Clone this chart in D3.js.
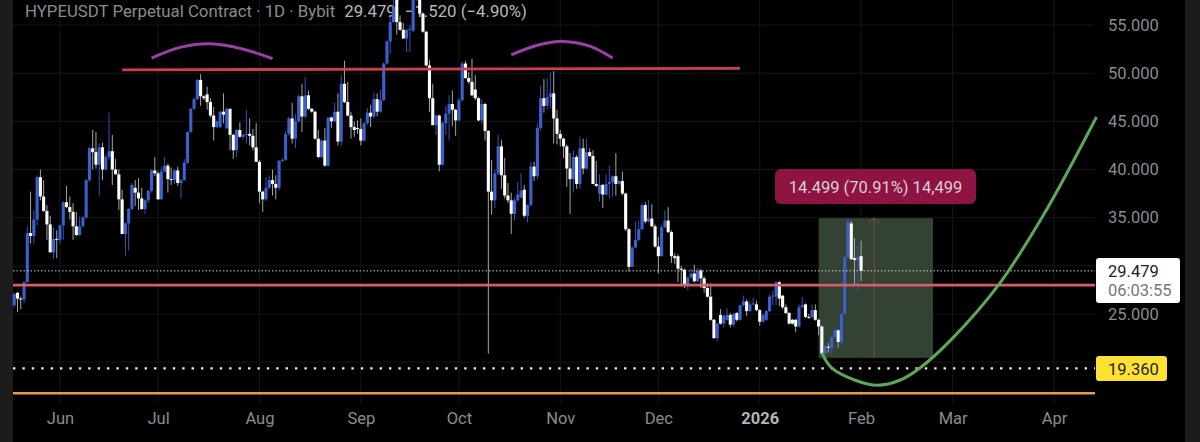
<!DOCTYPE html>
<html lang="en">
<head>
<meta charset="utf-8" />
<title>HYPEUSDT Perpetual Contract</title>
<style>
  html, body { margin: 0; padding: 0; background: #000; }
  svg { display: block; font-family: Roboto, sans-serif; }
  .axis path, .axis line { display: none; }
  .axis text { fill: #8c8c8c; font-family: Roboto, sans-serif; font-size: 16.5px; }
</style>
<script src="https://cdn.jsdelivr.net/npm/d3@7/dist/d3.min.js"></script>
</head>
<body>
<svg id="chart" width="1200" height="442"></svg>
<script>
// daily candles, first one is 18 May 2025, last one 1 Feb 2026
var firstDay = "2025-05-18";

var opens = [
  25.9,27.2,26.6,26.5,28.3,33.4,33.1,34.8,39.2,37.2,
  35.7,34.3,31.4,32.8,32.7,34.2,36.6,36.1,35.6,34.1,
  33.2,34.1,35,38.9,42.2,41.8,40.5,42.3,40,41.3,
  41.9,40,39.5,36.9,33.3,34.4,35.9,38.1,37.6,37,
  35.9,36.8,37.8,39.9,39.6,36.9,39.8,40.4,39,38.9,
  39.9,38.6,38.9,40.7,43.9,46.3,47.3,49.3,47.6,47.8,
  47,45.6,44.4,44.4,46,44.3,46.3,43.6,42,44.1,
  43.4,43.6,43.7,43.5,42.3,40.8,37.7,36.9,38.1,38.9,
  38.5,38.1,40.9,41,43.7,45.3,43.2,45,47.6,45.5,
  47.7,46.3,46,43.2,41.3,43,40.4,45.4,45,46,
  42.9,48.9,47,45.6,44.4,44.3,44.2,43,44.8,45.9,
  45.5,47.3,46,47.2,51,53.3,55.3,57.6,55.3,54.5,
  53.6,54.5,54.4,57.6,58.5,56.2,54.3,50.8,47.4,44.6,
  45.6,40.5,44.8,45.8,46.8,46.2,45.1,47.2,51,49.5,
  49.1,48.3,47.4,45.1,46.8,44,37.7,36.8,39.6,42.4,
  39.4,37.3,36.8,35.4,36.8,37.1,37.9,35.2,36.3,40.3,
  39.3,44.3,47.4,46.6,47.5,47.9,45.3,43.7,43.2,42.4,
  40.1,39,41.3,38.5,42.2,40.1,41.8,41.4,38.5,37.5,
  38.4,37.4,38.5,38.7,39.3,38.5,38.8,37.5,33.8,29.9,
  31.9,32.7,33.8,36.3,34.6,34.9,34.1,32,31,34,
  34.7,33.5,31,31,29.7,29.6,28,28.8,29.2,28.4,
  29.5,28.7,27.7,26.8,24.4,22.5,24.9,24,24.4,24.9,
  23.9,25.1,24.4,25.9,26.3,25.3,26,26,25.4,24.2,
  24.4,25.3,26.8,26.8,28.3,26.9,25.7,25.1,24.4,24.4,
  23.7,25.7,26,24.7,24.7,25.4,24.4,23.7,20.9,21.6,
  21.5,22.6,23.3,22.1,25,30.9,34.4,30.8,30.6,31
];
var closes = [
  27.1,26.6,26.5,28.3,33.4,33.1,34.8,39.2,37.2,35.7,
  34.3,31.4,32.8,32.7,34.2,36.6,36.1,35.6,34.1,33.2,
  34.1,35,38.9,42.2,41.8,40.5,42.3,40,41.3,41.9,
  40,39.5,36.9,33.3,34.4,35.9,38.4,37.6,37,35.9,
  36.8,37.8,39.9,39.6,36.9,39.8,40.4,39,38.9,39.9,
  38.6,38.9,40.7,43.9,46.3,47.3,49.3,47.6,47.4,47,
  45.6,44.4,45,46,45.7,46.3,43.6,42,44.1,43.4,
  43.6,43.7,43.5,42.3,40.8,37.7,36.9,38.1,38.9,38.5,
  38.1,40.9,41,43.7,45.3,43.2,45,47.6,45.5,47.7,
  46.3,46,43.2,41.3,43,40.4,45.4,45,46,42.9,
  48.9,47,45.6,44.4,44.1,44.2,43,44.8,45.9,45.5,
  47.3,46,47.2,51,53.3,55.3,56.9,55.3,54.5,53.6,
  54.5,54.6,57.6,58.5,56.2,54.3,50.8,47.4,44.6,45.6,
  40.5,44.8,45.8,46.8,46.2,45.1,47.2,51,49.5,49.1,
  47.7,47.4,45.1,46.8,44,37.7,36.8,39.6,42.4,39.4,
  37.3,36.8,35.4,36.8,37.4,37.8,35.2,36.3,40.3,39.3,
  44.3,47.4,46.6,47.5,47.9,45.3,43.7,43.2,42.4,40.1,
  39,41.3,38.5,42.2,40.1,41.8,41.4,38.5,38.3,38.4,
  37.4,38.5,38.7,39.3,38.5,38.8,37.5,33.8,29.9,31.9,
  32.7,33.8,36.3,34.6,34.9,34.1,32,31,34,34.7,
  33.5,31,30.8,29.7,29.6,28,28.8,29.2,28.4,29.5,
  28.7,27.7,26.8,24.4,22.5,24,24,24.8,24.9,23.9,
  25,24.4,25.9,26.3,25.3,26,26.1,25.4,24.2,24.9,
  25.3,26.8,26.9,28.3,26.6,25.7,25.1,24,24,23.7,
  25.7,25.9,24.7,24.6,25.4,24.4,23.7,20.9,21.7,21.5,
  22.6,23.3,22.1,25,30.9,34.6,30.7,30.6,30.9,29.48
];
var highs = [
  27.2,27.3,26.8,28.4,34.1,37.7,35.8,39.4,40,38.9,
  36.3,35.2,34,33.7,34.3,36.7,38.3,37.2,36.5,35.6,
  35.1,35.2,39,42.4,44.1,43.9,42.7,42.8,41.5,45.9,
  43.6,41.1,40,37.9,34.5,36,38.6,38.9,39.1,38.1,
  36.9,37.9,40,41.3,39.8,40.3,41.3,40.6,40.2,40,
  40.3,39,41.1,43.9,46.4,47.5,49.4,49.9,47.7,48.6,
  47.4,46.5,45.1,46.1,47.9,46.4,46.3,43.7,44.2,44.9,
  43.7,46.2,45.3,44.2,44.8,41,37.8,39.2,39.4,40,
  39.4,41,41.2,44,45.5,46.9,45.8,47.8,48.9,49.6,
  48.2,46.4,46.1,44.1,43.1,44.3,45.4,45.5,46.9,47.9,
  49.8,51.3,49.1,46,45,45.1,45.3,44.9,46.4,46.7,
  48,47.9,48.3,51.1,53.4,55.9,57.8,58.6,56,55.2,
  54.6,55,59,59.5,58.6,56.3,54.4,51.4,48.9,45.7,
  45.7,45,46.6,47.7,48.2,46.3,47.4,51.2,51.3,50.1,
  51.5,49.8,47.5,47.3,46.9,44.1,41,40,43.6,43.1,
  41.2,38.6,37.6,37.1,38.7,39.6,38.4,36.4,40.8,40.8,
  44.8,48.7,49.4,49.5,50.1,50.2,46.2,44.1,43.3,42.6,
  41.7,42,41.5,43.4,43.2,43.2,42.2,42,40.9,39.5,
  38.5,39.5,40.4,39.4,41.7,38.9,39.8,37.6,33.9,32,
  34.6,34.7,36.5,36.6,36.8,36.4,34.3,33,34.3,35.8,
  36.1,33.7,31.3,31.2,30,29.7,28.9,29.7,30.1,29.8,
  29.7,28.9,28.2,28.2,24.5,24.1,25.5,24.9,25.6,25.1,
  25.1,25.2,26,26.9,26.5,26.4,26.7,26.4,25.5,25,
  25.4,27,27.4,28.4,28.4,27,26,25.2,24.5,24.5,
  26,26.8,26.1,25,26,26,24.5,23.8,21.8,22,
  22.8,23.6,23.4,25.1,31,34.9,34.7,32.9,32.1,32.6
];
var lows = [
  25.7,25.2,25.5,26.1,28.3,32.3,32.3,34.2,36.8,35.6,
  32.7,31.4,30.7,30.8,32.3,32.7,36,34.8,32.7,33.1,
  33.1,34.1,34.9,38.7,40,40.1,37.3,38.9,39.9,41,
  38.4,39.5,35.8,33.3,31,31.6,35.8,36.2,35.8,35.8,
  35.4,36.5,37.6,39.3,36.9,36.9,39.7,37.6,38.4,38.5,
  38.3,37,38.8,40.6,43.8,46.2,47.2,46.6,47.2,46.2,
  45.4,43,44.3,44.3,44.8,44.2,42,41.1,41.3,43.3,
  43.2,42.7,42.5,42,40.8,36.5,35.6,36.7,38,37.3,
  36.9,37.8,40.8,40.9,43.5,42.7,42.2,44.9,43.9,45.3,
  46.2,45.9,43.1,41.2,41.2,40.3,40.3,44.3,44.9,42.5,
  42.4,46.9,45.5,43.2,43.4,43.7,42.5,42.9,44.6,44.4,
  45.3,45.5,45.9,47.1,50.9,52,55.2,54,54.4,53.6,
  52.2,52.2,54.3,57.5,56.1,54.2,50.7,46,44.6,43.6,
  39.8,40.4,43.6,43,44.5,43.5,45,47.1,49.4,48.9,
  47.6,47.2,45,44.7,43,20.9,35.3,36,39.4,38,
  37,36.5,33.3,34.7,36.6,37,35,34.5,36.2,38.8,
  39,44,45.9,46.2,46.3,42.7,42.6,42.4,41.2,38.2,
  35.4,37.6,38,38,39.5,40,41.3,38.5,38.2,36.7,
  36,37.3,37,37.2,37.3,38.4,37.3,33.6,29.4,29.9,
  31.8,32.6,33.7,34.4,34.5,34,31.9,29.2,31,33.9,
  33.4,30.3,30.2,28.3,27.9,27.7,27.5,28.7,28.3,28.3,
  27.7,27.2,26.7,24.3,22.4,22.2,23.9,23.6,24.3,23.6,
  23.7,24.2,24.3,25.8,24.8,25.2,25.9,25.3,23.8,24.1,
  24.3,25.2,25.9,25.9,25.8,25.5,25,23.9,23.9,23.1,
  23.6,25.6,24.6,24.5,24.6,24.3,22.8,20.8,20.7,21,
  20.9,22.5,21.5,21.9,24.9,30.8,30.6,28.1,27.4,28.4
];

var gridPrices = [20, 25, 30, 35, 40, 45, 50, 55];
var labelPrices = [25, 35, 40, 45, 50, 55]; // 20 and 30 sit behind the price tags
var monthTicks = ["2025-06-01", "2025-07-01", "2025-08-01", "2025-09-01", "2025-10-01", "2025-11-01",
  "2025-12-01", "2026-01-01", "2026-02-01", "2026-03-01", "2026-04-01"];
var monthLabels = ["Jun", "Jul", "Aug", "Sep", "Oct", "Nov", "Dec", "2026", "Feb", "Mar", "Apr"];

// drawn annotations
var resistanceDates = ["2025-06-20", "2025-12-26"];
var resistancePrices = [50.35, 50.5];
var archOneDates = ["2025-06-29", "2025-07-08", "2025-07-17", "2025-07-27", "2025-08-05"];
var archOnePrices = [51.57, 52.7, 53.05, 52.5, 51.5];
var archTwoDates = ["2025-10-17", "2025-10-25", "2025-11-02", "2025-11-10", "2025-11-17"];
var archTwoPrices = [51.9, 52.9, 53.3, 52.8, 51.57];
var curveDates = ["2026-01-20", "2026-01-23", "2026-01-30", "2026-02-06", "2026-02-13", "2026-02-19",
  "2026-03-01", "2026-03-15", "2026-03-29", "2026-04-14"];
var curvePrices = [20.96, 19.4, 18.15, 17.6, 18.15, 19.4, 22.5, 28, 35.4, 45.45];
var measureDates = ["2026-01-19", "2026-02-05", "2026-02-23"];
var measurePrices = [20.449, 34.948];
var lastPrice = 29.479, supportPrice = 28, alertPrice = 19.36, floorPrice = 16.77;

var parseDay = d3.utcParse("%Y-%m-%d");
var svg = d3.select("#chart");

var x = d3.scaleUtc().domain([parseDay("2025-06-01"), parseDay("2026-04-01")]).range([60, 1054]);
var y = d3.scaleLinear().domain([25, 55]).range([314, 25]);

var left = 13, right = 1095, bottom = 403;

svg.append("rect").attr("width", 1200).attr("height", 442).attr("fill", "#000");
svg.append("rect").attr("width", left).attr("height", 442).attr("fill", "#1c1c1c");
svg.append("rect").attr("x", 1185).attr("width", 15).attr("height", 442).attr("fill", "#1c1c1c");

// grid
svg.append("g").selectAll("line").data(gridPrices).join("line")
  .attr("x1", left).attr("x2", right)
  .attr("y1", function(d) { return y(d); }).attr("y2", function(d) { return y(d); })
  .attr("stroke", "#161616");
svg.append("g").selectAll("line").data(monthTicks).join("line")
  .attr("x1", function(d) { return x(parseDay(d)); }).attr("x2", function(d) { return x(parseDay(d)); })
  .attr("y1", 0).attr("y2", bottom)
  .attr("stroke", "#161616");

// title goes under the candles, they run through it
var title = svg.append("text").attr("x", 25).attr("y", 17).attr("font-size", "16.8px").attr("fill", "#8c8c8c");
title.append("tspan").text("HYPEUSDT Perpetual Contract \u00b7 1D \u00b7 Bybit");
title.append("tspan").attr("dx", 9).attr("fill", "#b8b8b8").text("29.479");
title.append("tspan").attr("dx", 9).attr("fill", "#b8b8b8").text("\u22121.520 (\u22124.90%)");

// measure box
svg.append("rect")
  .attr("x", x(parseDay(measureDates[0])))
  .attr("y", y(measurePrices[1]))
  .attr("width", x(parseDay(measureDates[2])) - x(parseDay(measureDates[0])))
  .attr("height", y(measurePrices[0]) - y(measurePrices[1]))
  .attr("fill", "#334233");
var arrowX = x(parseDay(measureDates[1]));
svg.append("line")
  .attr("x1", arrowX).attr("x2", arrowX)
  .attr("y1", y(measurePrices[1])).attr("y2", y(measurePrices[0]))
  .attr("stroke", "#6e4a44").attr("stroke-width", 1.2);
svg.append("path")
  .attr("d", d3.line()([[arrowX - 6, y(measurePrices[1]) + 5], [arrowX, y(measurePrices[1])], [arrowX + 6, y(measurePrices[1]) + 5]]))
  .attr("fill", "none").attr("stroke", "#6e4a44").attr("stroke-width", 1.2);

// candles
var candles = closes.map(function(c, i) {
  return { day: d3.utcDay.offset(parseDay(firstDay), i), open: opens[i], close: c, high: highs[i], low: lows[i] };
});
var blue = "#3c60cf", white = "#ffffff";
var candle = svg.append("g").selectAll("g").data(candles).join("g");
candle.append("line")
  .attr("x1", function(d) { return x(d.day); }).attr("x2", function(d) { return x(d.day); })
  .attr("y1", function(d) { return y(d.high); }).attr("y2", function(d) { return y(d.low); })
  .attr("stroke", function(d) { return d.close >= d.open ? "#3454b8" : "#a6a6a6"; })
  .attr("stroke-width", 1);
candle.append("rect")
  .attr("x", function(d) { return x(d.day) - 1.55; })
  .attr("width", 3.1)
  .attr("y", function(d) { return y(Math.max(d.open, d.close)); })
  .attr("height", function(d) { return Math.max(1, Math.abs(y(d.open) - y(d.close))); })
  .attr("fill", function(d) { return d.close >= d.open ? blue : white; });

// horizontal levels
svg.append("line").attr("x1", left).attr("x2", right).attr("y1", y(lastPrice)).attr("y2", y(lastPrice))
  .attr("stroke", "#cfcfcf").attr("stroke-width", 1).attr("stroke-dasharray", "1.5 2");
svg.append("line").attr("x1", left).attr("x2", right).attr("y1", y(supportPrice)).attr("y2", y(supportPrice))
  .attr("stroke", "#d95c6c").attr("stroke-width", 2.8);
svg.append("line").attr("x1", left).attr("x2", right).attr("y1", y(alertPrice)).attr("y2", y(alertPrice))
  .attr("stroke", "#f3eec0").attr("stroke-width", 2.4).attr("stroke-dasharray", "2.4 7");
svg.append("line").attr("x1", left).attr("x2", right).attr("y1", y(floorPrice)).attr("y2", y(floorPrice))
  .attr("stroke", "#ea9a3e").attr("stroke-width", 2.4);

var lineGen = d3.line()
  .x(function(d) { return x(parseDay(d[0])); })
  .y(function(d) { return y(d[1]); });

svg.append("path").attr("d", lineGen(d3.zip(resistanceDates, resistancePrices)))
  .attr("fill", "none").attr("stroke", "#c9404f").attr("stroke-width", 2.8);
[[archOneDates, archOnePrices], [archTwoDates, archTwoPrices]].forEach(function(a) {
  svg.append("path").attr("d", lineGen.curve(d3.curveCatmullRom)(d3.zip(a[0], a[1])))
    .attr("fill", "none").attr("stroke", "#9c3fa6").attr("stroke-width", 3);
});
svg.append("path").attr("d", lineGen.curve(d3.curveCatmullRom)(d3.zip(curveDates, curvePrices)))
  .attr("fill", "none").attr("stroke", "#5ca85a").attr("stroke-width", 3);

// axes
var yAxis = d3.axisRight(y).tickValues(labelPrices).tickSize(0).tickPadding(0).tickFormat(d3.format(".3f"));
svg.append("g").attr("class", "axis").attr("transform", "translate(1108,0)").call(yAxis);

var xAxis = d3.axisBottom(x).tickValues(monthTicks.map(parseDay)).tickSize(0).tickPadding(0)
  .tickFormat(function(d, i) { return monthLabels[i]; });
var xg = svg.append("g").attr("class", "axis").attr("transform", "translate(0,412)").call(xAxis);
xg.selectAll("text").filter(function(d, i) { return monthLabels[i] === "2026"; })
  .style("fill", "#b5b5b5").style("font-weight", 700);

// measure label
svg.append("rect").attr("x", 775).attr("y", 169).attr("width", 201).attr("height", 35).attr("rx", 6)
  .attr("fill", "#8f1342");
svg.append("text").attr("x", 875.5).attr("y", 192.5).attr("text-anchor", "middle")
  .attr("font-size", "16.5px").attr("fill", "#d8d0d4").text("14.499 (70.91%) 14,499");

// price tags
svg.append("rect").attr("x", 1096).attr("y", 258).attr("width", 84).attr("height", 45).attr("rx", 3).attr("fill", "#fff");
svg.append("text").attr("x", 1108).attr("y", 276.5).attr("font-size", "16.5px").attr("fill", "#222").text("29.479");
svg.append("text").attr("x", 1108).attr("y", 296).attr("font-size", "16.5px").attr("fill", "#777").text("06:03:55");
svg.append("rect").attr("x", 1096).attr("y", 356).attr("width", 71).attr("height", 25).attr("rx", 3).attr("fill", "#fde233");
svg.append("text").attr("x", 1108).attr("y", 374.5).attr("font-size", "16.5px").attr("fill", "#222").text("19.360");
</script>
</body>
</html>
